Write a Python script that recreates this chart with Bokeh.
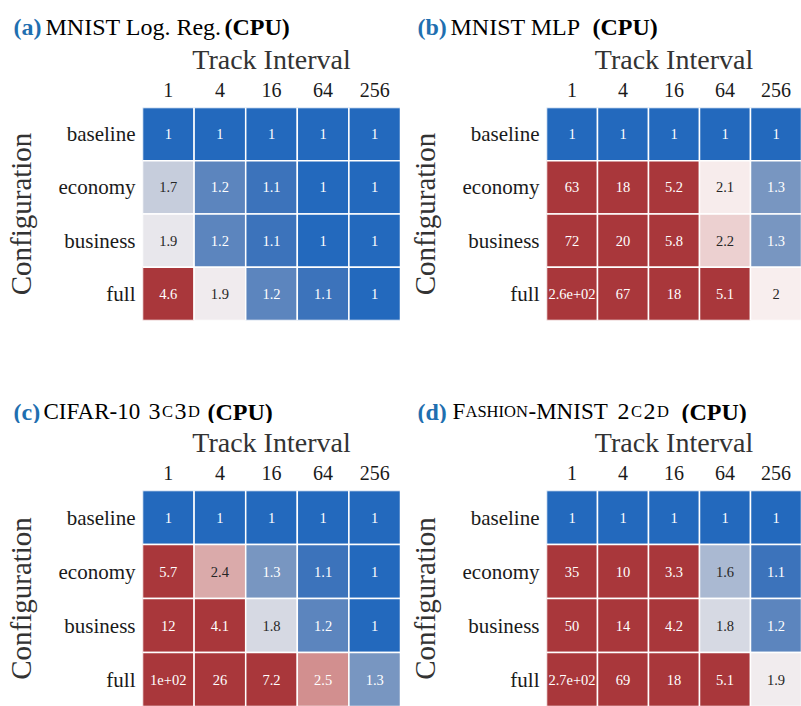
from bokeh.plotting import figure
from bokeh.models import FactorRange, ColumnDataSource, Label
from bokeh.layouts import row, column
from bokeh.core.properties import value
from bokeh.embed import file_html
from bokeh.resources import INLINE

# ---------------- data ----------------
intervals = ["1", "4", "16", "64", "256"]
configs = ["baseline", "economy", "business", "full"]

mnist_logreg = [[1, 1, 1, 1, 1],
                [1.7, 1.2, 1.1, 1, 1],
                [1.88, 1.2, 1.1, 1, 1],
                [4.6, 1.93, 1.2, 1.1, 1]]
mnist_mlp = [[1, 1, 1, 1, 1],
             [63, 18, 5.2, 2.1, 1.3],
             [72, 20, 5.8, 2.2, 1.3],
             [260, 67, 18, 5.1, 2]]
cifar10_3c3d = [[1, 1, 1, 1, 1],
                [5.7, 2.4, 1.3, 1.1, 1],
                [12, 4.1, 1.8, 1.2, 1],
                [100, 26, 7.2, 2.5, 1.3]]
fmnist_2c2d = [[1, 1, 1, 1, 1],
               [35, 10, 3.3, 1.6, 1.1],
               [50, 14, 4.2, 1.8, 1.2],
               [270, 69, 18, 5.1, 1.94]]

# ---------------- colormap (diverging, centred at 2) ----------------
cmap_vals = [1.0, 1.1, 1.2, 1.3, 1.6, 1.7, 1.8, 1.9, 2.0, 2.1, 2.2, 2.4, 2.5, 3.0, 3.3]
cmap_rgb = [(35, 105, 189), (60, 115, 187), (92, 133, 190), (120, 150, 193),
            (170, 185, 210), (198, 205, 220), (214, 217, 227), (236, 234, 238),
            (248, 238, 238), (247, 236, 236), (236, 208, 208), (218, 170, 170),
            (210, 143, 143), (175, 70, 72), (169, 55, 59)]


def to_color(v):
    if v <= cmap_vals[0]:
        c = cmap_rgb[0]
    elif v >= cmap_vals[-1]:
        c = cmap_rgb[-1]
    else:
        for i in range(len(cmap_vals) - 1):
            a, b = cmap_vals[i], cmap_vals[i + 1]
            if a <= v <= b:
                f = (v - a) / (b - a)
                c = tuple(cmap_rgb[i][k] + f * (cmap_rgb[i + 1][k] - cmap_rgb[i][k]) for k in range(3))
                break
    return "#%02x%02x%02x" % tuple(int(round(x)) for x in c), c


def text_color(c):
    def lin(u):
        u = u / 255.0
        return u / 12.92 if u <= 0.03928 else ((u + 0.055) / 1.055) ** 2.4
    lum = 0.2126 * lin(c[0]) + 0.7152 * lin(c[1]) + 0.0722 * lin(c[2])
    return "#262626" if lum > 0.408 else "#ffffff"


SERIF = "Liberation Serif"
BLUE = "#1f6fb0"


def make_heat(vals, fig_left, fig_top, frame_left, frame_top, frame_w, frame_h, fig_w, fig_h):
    xs, ys, labels, fills, tcols = [], [], [], [], []
    for r, cfg in enumerate(configs):
        for c, iv in enumerate(intervals):
            v = vals[r][c]
            hexc, rgb = to_color(v)
            xs.append(iv)
            ys.append(cfg)
            labels.append(format(v, ".2g"))
            fills.append(hexc)
            tcols.append(text_color(rgb))
    src = ColumnDataSource(dict(x=xs, y=ys, label=labels, fill=fills, tcol=tcols))

    p = figure(width=fig_w, height=fig_h,
               x_range=FactorRange(*intervals),
               y_range=FactorRange(*list(reversed(configs))),
               x_axis_location="above",
               output_backend="svg", toolbar_location=None, title=None,
               min_border_left=frame_left - fig_left,
               min_border_right=fig_left + fig_w - (frame_left + frame_w),
               min_border_top=frame_top - fig_top,
               min_border_bottom=fig_top + fig_h - (frame_top + frame_h))
    p.rect(x="x", y="y", width=1, height=1, source=src,
           fill_color="fill", line_color="white", line_width=1.5)
    p.text(x="x", y="y", text="label", source=src, text_color="tcol",
           text_align="center", text_baseline="middle",
           text_font=value(SERIF), text_font_size="14.5px")

    p.grid.visible = False
    p.outline_line_color = None
    p.background_fill_color = "white"
    p.border_fill_color = "white"

    xa = p.xaxis[0]
    xa.axis_label = "Track Interval"
    xa.axis_label_text_font = SERIF
    xa.axis_label_text_font_size = "28px"
    xa.axis_label_text_font_style = "normal"
    xa.axis_label_text_color = "#333333"
    xa.axis_label_standoff = 5
    xa.major_label_text_font = SERIF
    xa.major_label_text_font_size = "20px"
    xa.major_label_text_color = "#1a1a1a"
    xa.major_label_standoff = 11
    xa.axis_line_color = None
    xa.major_tick_in = 0
    xa.major_tick_out = 0

    ya = p.yaxis[0]
    ya.axis_label = "Configuration"
    ya.axis_label_text_font = SERIF
    ya.axis_label_text_font_size = "29px"
    ya.axis_label_text_font_style = "normal"
    ya.axis_label_text_color = "#333333"
    ya.axis_label_standoff = 19
    ya.major_label_text_font = SERIF
    ya.major_label_text_font_size = "21px"
    ya.major_label_text_color = "#1a1a1a"
    ya.major_label_standoff = 7
    ya.axis_line_color = None
    ya.major_tick_in = 0
    ya.major_tick_out = 0
    return p


def make_title(parts, fig_left, fig_top, fig_w, fig_h, baseline_page):
    t = figure(width=fig_w, height=fig_h, output_backend="svg", toolbar_location=None,
               title=None, x_axis_location=None, y_axis_location=None,
               min_border_left=0, min_border_right=0, min_border_top=0, min_border_bottom=0)
    t.grid.visible = False
    t.outline_line_color = None
    t.background_fill_color = "white"
    t.border_fill_color = "white"
    for (txt, xpage, size, style, color) in parts:
        t.add_layout(Label(x=xpage - fig_left, y=fig_top + fig_h - baseline_page,
                           x_units="screen", y_units="screen", text=txt,
                           text_font=SERIF, text_font_size=size, text_font_style=style,
                           text_color=color, text_baseline="alphabetic", text_align="left"))
    return t


BIG = "24px"
MID = "23px"
SMALL = "16.5px"


def sc_parts(chars, x0):
    w_big = {"3": 12.0, "2": 12.0}
    w_small = {"C": 11.0, "D": 11.9}
    parts = []
    x = x0
    for chr_, small in chars:
        parts.append((chr_, x, SMALL if small else BIG, "normal", "black"))
        x += (w_small[chr_] if small else w_big[chr_]) + 1.5
    return parts


title_a = [("(a)", 13, BIG, "bold", BLUE), ("MNIST Log. Reg.", 45, BIG, "normal", "black"),
           ("(CPU)", 224, BIG, "bold", "black")]
title_b = [("(b)", 417, BIG, "bold", BLUE), ("MNIST MLP", 450, BIG, "normal", "black"),
           ("(CPU)", 592, BIG, "bold", "black")]
title_c = [("(c)", 13, BIG, "bold", BLUE), ("CIFAR-10", 43, MID, "normal", "black")] + \
    sc_parts([("3", False), ("C", True), ("3", False), ("D", True)], 148) + \
    [("(CPU)", 207, BIG, "bold", "black")]
title_d = [("(d)", 417, BIG, "bold", BLUE), ("F", 452, MID, "normal", "black"),
           ("ASHION", 465, SMALL, "normal", "black"), ("-MNIST", 528, MID, "normal", "black")] + \
    sc_parts([("2", False), ("C", True), ("2", False), ("D", True)], 617) + \
    [("(CPU)", 681, BIG, "bold", "black")]

# title strips (page px)
ta = make_title(title_a, 0, 0, 400, 40, 26)
tb = make_title(title_b, 400, 0, 401, 40, 26)
tc = make_title(title_c, 0, 383, 400, 40, 411)
td = make_title(title_d, 400, 383, 401, 40, 411)

# heatmaps: fig left/top, frame left/top, frame w/h, fig w/h (page px)
pa = make_heat(mnist_logreg, 0, 40, 142, 107, 258, 213, 400, 343)
pb = make_heat(mnist_mlp, 400, 40, 546, 103, 255, 218, 401, 343)
pc = make_heat(cifar10_3c3d, 0, 423, 142, 490, 258, 216, 400, 283)
pd = make_heat(fmnist_2c2d, 400, 423, 546, 490, 255, 216, 401, 283)

layout = column(row(ta, tb), row(pa, pb), row(tc, td), row(pc, pd))
open("out.html", "w").write(file_html(layout, INLINE))
